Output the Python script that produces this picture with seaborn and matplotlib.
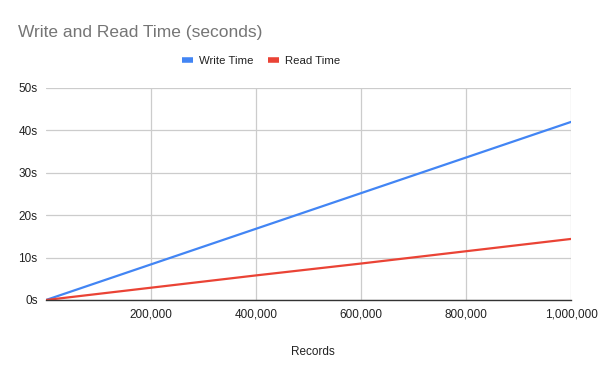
import pandas as pd
import matplotlib.pyplot as plt
import seaborn as sns
from matplotlib.ticker import FuncFormatter

# Values
records = [0, 200000, 400000, 600000, 800000, 1000000]
write_time = [0, 8.4, 16.8, 25.2, 33.6, 42.0]
read_time = [0, 2.9, 5.8, 8.6, 11.5, 14.4]

df = pd.DataFrame({
    "Records": records * 2,
    "Seconds": write_time + read_time,
    "Series": ["Write Time"] * len(records) + ["Read Time"] * len(records),
})

sns.set_style("white")
plt.rcParams["font.family"] = ["Liberation Sans", "DejaVu Sans"]

fig = plt.figure(figsize=(6, 3.71), dpi=100)
ax = fig.add_axes([46 / 600, 71 / 371, 525 / 600, 212 / 371])

colors = {"Write Time": "#4285F4", "Read Time": "#EA4335"}
sns.lineplot(data=df, x="Records", y="Seconds", hue="Series", palette=colors,
             linewidth=1.6, ax=ax, legend=False, zorder=3)

ax.set_xlim(0, 1000000)
ax.set_ylim(0, 50)
ax.set_xticks([200000, 400000, 600000, 800000, 1000000])
ax.set_yticks([0, 10, 20, 30, 40, 50])
ax.xaxis.set_major_formatter(FuncFormatter(lambda v, p: f"{int(v):,}"))
ax.yaxis.set_major_formatter(FuncFormatter(lambda v, p: f"{int(v)}s"))
ax.grid(True, color="#cccccc", linewidth=0.9)
ax.tick_params(axis="both", length=0, labelsize=8.5, colors="#222222", pad=6)
for s in ["top", "right", "left"]:
    ax.spines[s].set_visible(False)
ax.spines["bottom"].set_color("#333333")
ax.spines["bottom"].set_linewidth(1.0)
ax.spines["bottom"].set_zorder(4)

ax.set_xlabel("Records", fontsize=8.5, color="#222222")
ax.xaxis.set_label_coords((313 - 46) / 525, -46 / 212)
ax.set_ylabel("")

fig.text(18 / 600, 1 - 32 / 371, "Write and Read Time (seconds)", fontsize=12.5,
         color="#757575", va="center", ha="left")

handles = [plt.Line2D([], [], color=colors[k], linewidth=4, solid_capstyle="butt")
           for k in ["Write Time", "Read Time"]]
fig.legend(handles, ["Write Time", "Read Time"], loc="center",
           bbox_to_anchor=(261 / 600, 1 - 61 / 371), ncol=2, frameon=False,
           fontsize=8.2, handlelength=1.0, handletextpad=0.5, columnspacing=1.3,
           labelcolor="#222222")

plt.savefig("out.png", dpi=100)
